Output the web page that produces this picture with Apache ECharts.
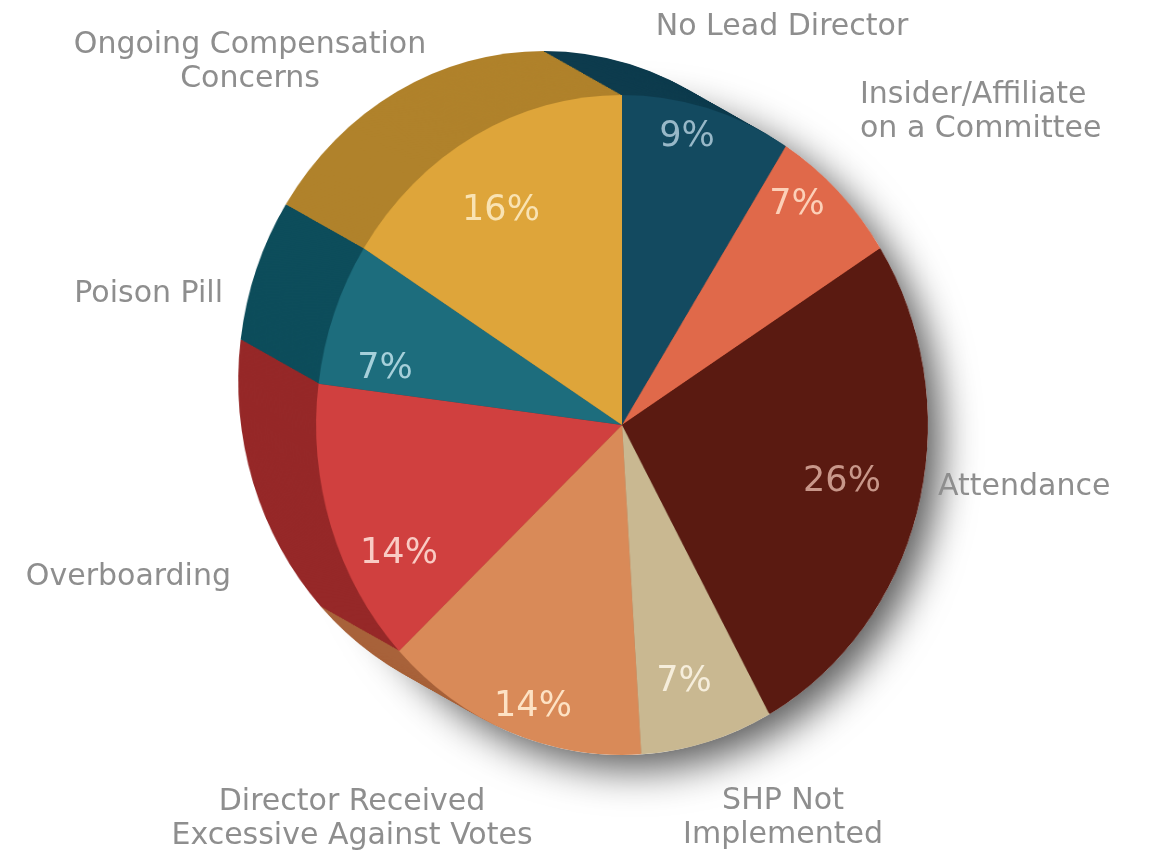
<!DOCTYPE html>
<html>
<head>
<meta charset="utf-8">
<script src="https://cdn.jsdelivr.net/npm/echarts@6/dist/echarts.min.js"></script>
<style>
html,body{margin:0;padding:0;background:#fff;}
#wrap{position:relative;width:1164px;height:855px;overflow:hidden;background:#fff;}
#pie{position:absolute;left:0;top:0;width:1164px;height:855px;transform:scaleX(0.927);transform-origin:622px 0;}
#labels{position:absolute;left:0;top:0;width:1164px;height:855px;}
</style>
</head>
<body>
<div id="wrap"><div id="pie"></div><div id="labels"></div></div>
<script>
// ---- data ----
const categories = [
  'No Lead Director',
  'Insider/Affiliate\non a Committee',
  'Attendance',
  'SHP Not\nImplemented',
  'Director Received\nExcessive Against Votes',
  'Overboarding',
  'Poison Pill',
  'Ongoing Compensation\nConcerns'
];
const values = [9, 7, 26, 7, 14, 14, 7, 16];

// ---- styles ----
const faceColors = ['#134a60', '#e0694a', '#5a1a11', '#c9b891', '#d98a58', '#d0403f', '#1d6d7d', '#dea53a'];
const sideColors = ['#0e3c4e', '#b05038', '#451209', '#a09070', '#a8623a', '#962828', '#0d4d5b', '#b0822b'];
const insideColors = ['#98b8c8', '#fcd0b8', '#c8978a', '#f6eedc', '#fde2c4', '#f9cbc4', '#a6d0da', '#f9e3b3'];

const CX = 622, CY = 425, R = 330;
const DX = -84, DY = -44; // extrusion offset of the back face (pie-chart coords)
const LAYERS = 50;

// label placement (layout only)
const outerPos = [
  {x: 782, y: 27, align: 'center'},
  {x: 860, y: 112, align: 'left'},
  {x: 938, y: 487, align: 'left'},
  {x: 783, y: 818, align: 'center'},
  {x: 352, y: 819, align: 'center'},
  {x: 231, y: 577, align: 'right'},
  {x: 223, y: 294, align: 'right'},
  {x: 250, y: 62, align: 'center'}
];
const innerPos = [
  {x: 687, y: 137}, {x: 797, y: 205}, {x: 842, y: 482}, {x: 684, y: 682},
  {x: 533, y: 707}, {x: 399, y: 554}, {x: 385, y: 369}, {x: 501, y: 211}
];

const pieSeries = [];

// soft drop shadow disc
pieSeries.push({
  type: 'pie', silent: true, animation: false,
  center: [CX, CY], radius: R,
  startAngle: 90, label: {show: false}, labelLine: {show: false},
  data: [{value: 1, itemStyle: {color: '#ffffff', shadowBlur: 40, shadowColor: 'rgba(0,0,0,0.65)', shadowOffsetX: 14, shadowOffsetY: 14}}]
});

// extrusion layers (back -> front)
for (let i = 0; i < LAYERS; i++) {
  const t = i / LAYERS;
  pieSeries.push({
    type: 'pie', silent: true, animation: false,
    center: [CX + DX * (1 - t), CY + DY * (1 - t)], radius: R,
    startAngle: 90, clockwise: true,
    label: {show: false}, labelLine: {show: false},
    itemStyle: {borderWidth: 0},
    data: values.map((v, k) => ({value: v, name: categories[k], itemStyle: {color: sideColors[k]}}))
  });
}

// front face
pieSeries.push({
  type: 'pie', silent: true, animation: false,
  center: [CX, CY], radius: R,
  startAngle: 90, clockwise: true,
  itemStyle: {borderWidth: 0},
  label: {show: false}, labelLine: {show: false},
  data: values.map((v, k) => ({value: v, name: categories[k], itemStyle: {color: faceColors[k]}}))
});

const pieChart = echarts.init(document.getElementById('pie'), null, {renderer: 'canvas'});
pieChart.setOption({backgroundColor: 'transparent', animation: false, series: pieSeries});

// labels (unscaled text layer)
const labelSeries = [
  {
    type: 'pie', silent: true, animation: false,
    center: [CX, CY], radius: R,
    startAngle: 90, clockwise: true,
    avoidLabelOverlap: false,
    itemStyle: {color: 'rgba(0,0,0,0)', borderWidth: 0},
    label: {
      show: true, position: 'outside',
      formatter: p => p.name,
      color: '#8e8e8e', fontFamily: 'DejaVu Sans', fontSize: 30, lineHeight: 34
    },
    labelLine: {show: false},
    labelLayout: p => {
      const o = outerPos[p.dataIndex];
      return {x: o.x, y: o.y, align: o.align, verticalAlign: 'middle'};
    },
    data: values.map((v, k) => ({value: v, name: categories[k]}))
  },
  {
    type: 'pie', silent: true, animation: false,
    center: [CX, CY], radius: R,
    startAngle: 90, clockwise: true,
    avoidLabelOverlap: false,
    itemStyle: {color: 'rgba(0,0,0,0)', borderWidth: 0},
    label: {
      show: true, position: 'inside',
      formatter: p => p.value + '%',
      fontFamily: 'DejaVu Sans', fontSize: 35
    },
    labelLine: {show: false},
    labelLayout: p => {
      const o = innerPos[p.dataIndex];
      return {x: o.x, y: o.y, align: 'center', verticalAlign: 'middle'};
    },
    data: values.map((v, k) => ({value: v, name: categories[k], label: {color: insideColors[k]}}))
  }
];
const labelChart = echarts.init(document.getElementById('labels'), null, {renderer: 'canvas'});
labelChart.setOption({backgroundColor: 'transparent', animation: false, series: labelSeries});
</script>
</body>
</html>
